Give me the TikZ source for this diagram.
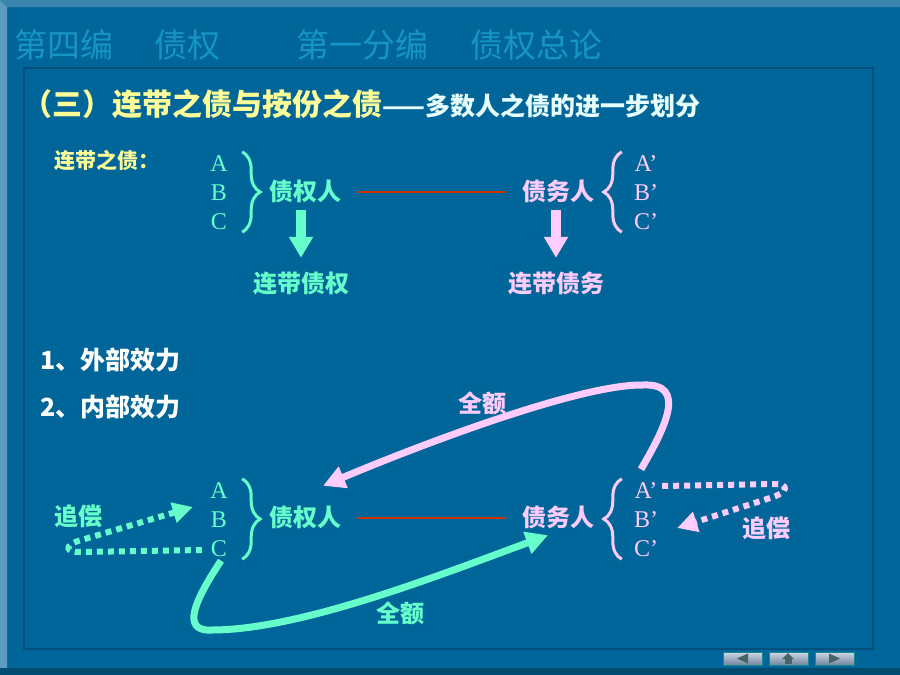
\documentclass[tikz,border=0pt]{standalone}
\usepackage{fontspec}
\setmainfont{Liberation Serif}
\newfontfamily\cjk{Noto Sans CJK SC}
\usepackage{xcolor}
\usepackage{tikz}
\definecolor{slide-blue}{RGB}{0,102,153}
\definecolor{bevel-top}{RGB}{58,134,174}
\definecolor{bevel-left}{RGB}{92,154,194}
\definecolor{bevel-low}{RGB}{0,76,112}
\definecolor{frame-line}{RGB}{0,80,126}
\definecolor{title-blue}{RGB}{22,148,198}
\definecolor{lemon}{RGB}{255,255,153}
\definecolor{pale-cyan}{RGB}{230,255,255}
\definecolor{mint}{RGB}{102,255,204}
\definecolor{soft-pink}{RGB}{255,204,255}
\definecolor{brick}{RGB}{204,51,0}
\definecolor{btn-top}{RGB}{208,216,228}
\definecolor{btn-low}{RGB}{112,132,160}
\definecolor{btn-edge}{RGB}{20,140,140}
\definecolor{btn-icon}{RGB}{70,100,100}
\usetikzlibrary{matrix,arrows.meta,decorations.pathreplacing}
\newcommand*\fsz[1]{\fontsize{#1}{#1}\selectfont}
\newcommand*\btx{\cjk\color{title-blue}}
\newcommand*\ytx{\cjk\bfseries\color{lemon}}
\newcommand*\ctx{\cjk\bfseries\color{pale-cyan}}
\newcommand*\wtx{\cjk\bfseries\color{white}}
\newcommand*\gtx{\cjk\bfseries\color{mint}}
\newcommand*\ptx{\cjk\bfseries\color{soft-pink}}

\begin{document}
\begin{tikzpicture}[x=1pt,y=-1pt,
		word/.style={inner sep=0pt,text height=20pt,text depth=4pt,font=\fsz{24}},
		line/.style={anchor=base west,inner sep=0pt},
		letters/.style={matrix of nodes,inner sep=0pt,row sep=0pt,nodes={inner sep=0pt,inner ysep=6pt,minimum width=22pt,text height=17pt,text depth=0pt,font=\fsz{24}}},
		gbrace/.style={decorate,decoration={brace,amplitude=18pt},line width=3pt,mint},
		pbrace/.style={decorate,decoration={brace,amplitude=18pt},line width=3pt,soft-pink},
		tie/.style={brick,line width=2pt,shorten <=16pt,shorten >=16pt},
		sink/.style={line width=10pt,-{Triangle[width=23pt,length=21pt]},shorten <=6pt,shorten >=14pt},
		sweep/.style={line width=7pt,-{Triangle[width=22pt,length=22pt]}},
		recourse/.style={line width=6pt,dash pattern=on 6pt off 5pt,-{Triangle[width=20pt,length=20pt]}}]
	\fill[slide-blue] (0,0) rectangle (900,675);
	\useasboundingbox (0,0) rectangle (900,675);
	\fill[bevel-top] (0,0) -- (900,0) -- (900,7) -- (7,7) -- cycle;
	\fill[bevel-left] (0,0) -- (7,7) -- (7,668) -- (0,675) -- cycle;
	\fill[bevel-low] (0,668) rectangle (900,675);
	\draw[frame-line,line width=1.2pt] (24,68) rectangle (873,649);

	\node[line,font=\fsz{33}] (bookA) at (14,57.5) {\btx 第四编};
	\node[line,font=\fsz{33}] (bookB) at (154,57.5) {\btx 债权};
	\node[line,font=\fsz{33}] (bookC) at (296,57.5) {\btx 第一分编};
	\node[line,font=\fsz{33}] (bookD) at (470,57.5) {\btx 债权总论};

	\node[line,font=\fsz{30}] (sect) at (22,115) {\ytx （三）连带之债与按份之债};
	\node[line,font=\fsz{25}] (sectsub) at (sect.base east) {\ctx ——多数人之债的进一步划分};
	\node[line,font=\fsz{21}] (jointlbl) at (54,168.5) {\ytx 连带之债：};

	\matrix (crA) [letters,nodes={text=mint}] at (219,192) {A\\B\\C\\};
	\matrix (dbA) [letters,nodes={text=soft-pink,minimum width=24pt}] at (646,192) {A’\\B’\\C’\\};
	\node[word] (credA) at (305,192) {\gtx 债权人};
	\node[word] (debtA) at (558,192) {\ptx 债务人};
	\node[word] (credJ) at (301,284) {\gtx 连带债权};
	\node[word] (debtJ) at (556,284) {\ptx 连带债务};
	\draw[gbrace] ([shift={(12,3.5)}]crA.north east) -- ([shift={(12,-3.5)}]crA.south east);
	\draw[pbrace] ([shift={(-12,-3.5)}]dbA.south west) -- ([shift={(-12,3.5)}]dbA.north west);
	\draw[tie] (credA) -- (debtA);
	\draw[sink,mint] (credA.south -| credJ.north) -- (credJ.north);
	\draw[sink,soft-pink] (debtA.south -| debtJ.north) -- (debtJ.north);

	\node[line,font=\fsz{25}] (outer) at (40,369) {\wtx 1、外部效力};
	\node[line,font=\fsz{25}] (inner) at (40,416) {\wtx 2、内部效力};

	\matrix (crB) [letters,nodes={text=mint}] at (219,519) {A\\B\\C\\};
	\matrix (dbB) [letters,nodes={text=soft-pink,minimum width=24pt}] at (646,519) {A’\\B’\\C’\\};
	\node[word] (credB) at (305,518) {\gtx 债权人};
	\node[word] (debtB) at (558,518) {\ptx 债务人};
	\draw[gbrace] ([shift={(12,3.5)}]crB.north east) -- ([shift={(12,-3.5)}]crB.south east);
	\draw[pbrace] ([shift={(-12,-3.5)}]dbB.south west) -- ([shift={(-12,3.5)}]dbB.north west);
	\draw[tie] (credB) -- (debtB);

	\draw[sweep,soft-pink] ([shift={(-5,-6)}]dbB-1-1.north) .. controls (665,428) and (688,383) .. (643,385) .. controls (580,384) and (420,445) .. ([shift={(18,-20)}]credB.north);
	\draw[sweep,mint] ([shift={(2,-2)}]crB-3-1.south) .. controls (195,600) and (180,632) .. (212,630) .. controls (300,630) and (440,575) .. ([shift={(-10,5)}]debtB.south);
	\draw[recourse,mint] ([shift={(-6,2)}]crB-3-1.west) -- (80,552) .. controls (66,552) and (64,546) .. (78,541) -- ([shift={(-15,-12)}]crB-2-1.west);
	\draw[recourse,soft-pink] ([shift={(4,-4)}]dbB-1-1.east) -- (775,484) .. controls (789,484) and (788,492) .. (773,497) -- ([shift={(19,9)}]dbB-2-1.east);
	\node[word] (fullP) at (482,404) {\ptx 全额};
	\node[word] (fullG) at (400,614) {\gtx 全额};
	\node[word] (recG) at (78,517) {\gtx 追偿};
	\node[word] (recP) at (766,529) {\ptx 追偿};

	\foreach \bx in {723,769,815}
		\shade[top color=btn-top,bottom color=btn-low,draw=btn-edge,line width=0.8pt] (\bx,652) rectangle (\bx+39,665);
	\fill[btn-icon] (737,658.5) -- (748,653.5) -- (748,663.5) -- cycle;
	\fill[btn-icon] (782,659) -- (788,653) -- (794,659) -- cycle;
	\fill[btn-icon] (784.5,659) rectangle (791.5,664);
	\fill[btn-icon] (840,658.5) -- (829,653.5) -- (829,663.5) -- cycle;
\end{tikzpicture}
\end{document}
